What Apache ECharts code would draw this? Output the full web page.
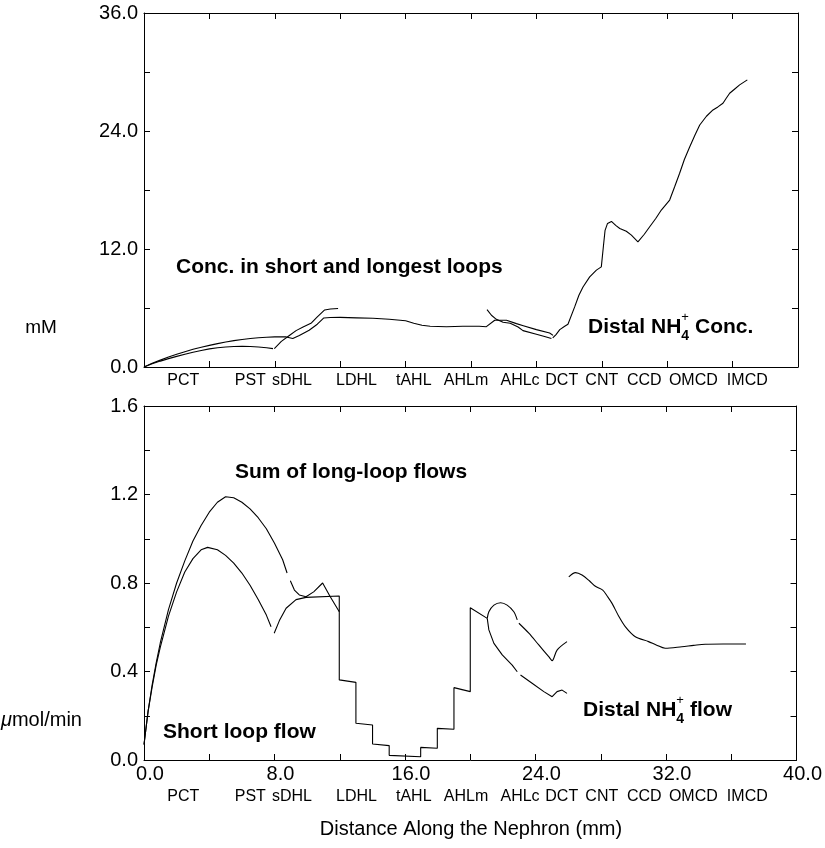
<!DOCTYPE html>
<html>
<head>
<meta charset="utf-8">
<script src="https://cdn.jsdelivr.net/npm/echarts@6/dist/echarts.min.js"></script>
<style>html,body{margin:0;padding:0;background:#fff;}#c{width:825px;height:848px;}</style>
</head>
<body>
<div id="c"></div>
<script>
// ---------- DATA ----------
// Segment labels along the nephron (centre positions, mm)
const segNames   = ['PCT','PST','sDHL','LDHL','tAHL','AHLm','AHLc','DCT','CNT','CCD','OMCD','IMCD'];
const segCenters = [2.4, 6.5, 9.05, 13.0, 16.5, 19.7, 23.0, 25.55, 28.0, 30.6, 33.6, 36.9];

// Top panel: NH4+ concentration (mM)
const concLongLoop = [[0,0],[0.5,0.37],[1,0.7],[1.5,1.01],[2,1.3],[2.5,1.56],[3,1.8],[3.5,2.01],[4,2.2],[4.5,2.38],[5,2.55],
  [5.5,2.68],[6,2.8],[6.5,2.9],[7,2.98],[7.5,3.03],[8,3.06],[8.7,3.06],[9.1,2.9],
  [9.5,3.2],[10.1,3.74],[10.6,4.35],[11.0,4.99],[11.4,5.03],[12,5.05],[13,5.0],[14,4.95],[15,4.86],[16,4.7],
  [16.5,4.45],[17,4.25],[17.5,4.14],[18.5,4.1],[19.5,4.14],[20.5,4.14],[20.94,4.1],[21.45,4.76],[22.17,4.76],
  [22.78,4.41],[23.2,4.2],[24.0,3.8],[24.81,3.46],[25.02,3.22]];
const concShortPCT = [[0,0],[0.5,0.32],[1,0.6],[1.5,0.85],[2,1.08],[2.5,1.3],[3,1.5],[3.5,1.68],[4,1.84],[4.5,1.95],[5,2.03],
  [5.5,2.08],[6,2.1],[6.5,2.09],[7,2.04],[7.5,1.96],[7.89,1.87]];
const concShortDHL = [[7.97,1.87],[8.4,2.6],[8.91,3.23],[9.3,3.7],[9.73,4.07],[10.24,4.48],[10.6,5.1],[11.05,5.8],[11.4,5.9],[11.87,5.95]];
const concShortDistalLoop = [[20.98,5.84],[21.25,5.26],[21.55,4.85],[21.96,4.55],[22.4,4.45],[22.88,4.07],[23.18,3.7],[24.0,3.33],[24.5,3.1],[24.92,2.89]];
const concDistal = [[25.0,2.95],[25.2,3.3],[25.43,3.8],[25.73,4.14],[25.93,4.35],[26.04,4.5],[26.34,6.11],[26.6,7.3],[26.85,8.14],
  [27.26,9.16],[27.67,9.85],[27.97,10.18],[28.1,12.3],[28.2,13.9],[28.35,14.6],[28.59,14.8],[28.85,14.4],[29.1,14.09],
  [29.5,13.8],[29.81,13.41],[30.21,12.73],[30.6,13.5],[30.93,14.26],[31.3,15.1],[31.64,15.96],[32.15,16.98],[32.45,18.3],
  [32.76,19.7],[33.05,21.1],[33.38,22.4],[33.7,23.6],[33.99,24.61],[34.4,25.5],[34.8,26.14],[35.1,26.45],[35.41,26.82],
  [35.6,27.3],[35.82,27.84],[36.15,28.3],[36.43,28.69],[36.9,29.2]];

// Bottom panel: NH4+ flow (umol/min)
const flowLongPCT = [[0,0.07],[0.25,0.22],[0.5,0.34],[0.75,0.44],[1,0.53],[1.5,0.68],[2,0.8],[2.5,0.9],[3,0.99],[3.5,1.06],
  [4,1.12],[4.5,1.165],[5,1.19],[5.5,1.185],[6,1.165],[6.5,1.135],[7,1.095],[7.5,1.045],[8,0.98],[8.5,0.905],[8.77,0.845]];
const flowLongDHL = [[8.97,0.81],[9.22,0.768],[9.52,0.746],[9.93,0.738],[10.4,0.76],[10.95,0.80],[11.4,0.74],[11.97,0.67]];
const flowShortPCT = [[0,0.07],[0.25,0.22],[0.5,0.33],[0.75,0.43],[1,0.51],[1.5,0.65],[2,0.76],[2.5,0.85],[3,0.91],[3.5,0.95],
  [3.9,0.961],[4.5,0.95],[5,0.925],[5.5,0.89],[6,0.845],[6.5,0.79],[7,0.725],[7.5,0.655],[7.79,0.602]];
const flowShortSteps = [[7.98,0.573],[8.3,0.63],[8.71,0.686],[9.32,0.725],[9.93,0.735],[11.97,0.741],[11.97,0.362],[12.99,0.351],
  [12.99,0.166],[14.01,0.158],[14.01,0.072],[15.03,0.065],[15.03,0.021],[16.96,0.015],[16.96,0.057],[17.98,0.053],
  [17.98,0.143],[19.0,0.139],[19.0,0.327],[20.0,0.309],[20.0,0.688],[21.04,0.64]];
const flowLoopUpper = [[21.04,0.64],[21.14,0.67],[21.45,0.70],[21.86,0.711],[22.26,0.70],[22.67,0.67],[22.88,0.633],[22.93,null],
  [22.98,0.618],[23.59,0.573],[24.2,0.52],[24.81,0.467],[25.02,0.449],[25.32,0.497],[25.93,0.535]];
const flowLoopLower = [[21.04,0.64],[21.14,0.588],[21.45,0.527],[21.96,0.475],[22.57,0.429],[22.88,0.399],[22.98,null],
  [23.08,0.384],[23.79,0.347],[24.51,0.309],[25.02,0.286],[25.32,0.309],[25.63,0.316],[25.93,0.301]];
const flowDistal = [[26.04,0.828],[26.45,0.847],[26.85,0.836],[27.3,0.81],[27.67,0.785],[28.12,0.768],[28.4,0.74],[28.69,0.708],
  [29.1,0.65],[29.5,0.603],[30.12,0.557],[30.93,0.535],[31.4,0.52],[31.95,0.505],[32.97,0.512],[33.7,0.518],[34.4,0.523],
  [35.5,0.524],[36.9,0.524]];

// ---------- CHART ----------
const FONT = '"Liberation Sans", Arial, Helvetica, sans-serif';
const chart = echarts.init(document.getElementById('c'), null, {renderer:'canvas'});
const axLine = {show:true, onZero:false, lineStyle:{color:'#000', width:1}};
const tick = {show:true, inside:true, length:6, lineStyle:{color:'#000', width:1}};

function xAx(grid, pos, labels){
  return {type:'value', gridIndex:grid, position:pos, min:0, max:40, interval:4,
    axisLine:axLine, axisTick:tick, splitLine:{show:false},
    axisLabel: labels ? {show:true, color:'#000', fontSize:20, fontFamily:FONT, margin:4, padding:[0,0,0,12],
      formatter:v => (Math.round(v)%8===0 ? v.toFixed(1) : '')} : {show:false}};
}
function yAx(grid, pos, max, interval, labelEvery, labels){
  return {type:'value', gridIndex:grid, position:pos, min:0, max:max, interval:interval,
    axisLine:axLine, axisTick:tick, splitLine:{show:false},
    axisLabel: labels ? {show:true, color:'#000', fontSize:20, fontFamily:FONT, margin:6,
      formatter:v => (Math.abs(Math.round(v/labelEvery)*labelEvery - v) < 1e-6 ? v.toFixed(1) : '')} : {show:false}};
}
function line(data, xi, yi, smooth){
  return {type:'line', data:data, xAxisIndex:xi, yAxisIndex:yi, showSymbol:false, symbol:'none',
    smooth: smooth ? 0.3 : false,
    connectNulls:false, lineStyle:{color:'#000', width:1.1}, silent:true, animation:false};
}

chart.setOption({
  animation:false,
  backgroundColor:'#fff',
  grid:[{left:144, top:13, width:654, height:354}, {left:144, top:406, width:654, height:354}],
  xAxis:[xAx(0,'bottom',false), xAx(0,'top',false), xAx(1,'bottom',true), xAx(1,'top',false)],
  yAxis:[yAx(0,'left',36,6,12,true), yAx(0,'right',36,6,12,false),
         yAx(1,'left',1.6,0.2,0.4,true), yAx(1,'right',1.6,0.2,0.4,false)],
  series:[
    line(concLongLoop,0,0,false), line(concShortPCT,0,0,false), line(concShortDHL,0,0,false),
    line(concShortDistalLoop,0,0,false), line(concDistal,0,0,false),
    line(flowLongPCT,2,2,false), line(flowLongDHL,2,2,false), line(flowShortPCT,2,2,false), line(flowShortSteps,2,2,false),
    line(flowLoopUpper,2,2,true), line(flowLoopLower,2,2,false), line(flowDistal,2,2,true)
  ]
});

const graphics = [];
segNames.forEach((n,i)=>{
  const px = chart.convertToPixel({xAxisIndex:0}, segCenters[i]);
  [381, 797].forEach(y=>graphics.push({type:'text', x:px, y:y,
    style:{text:n, fontSize:16, fontFamily:FONT, fill:'#000', align:'center', verticalAlign:'middle'}}));
});
const boldTxt = (t,x,y)=>({type:'text', x:x, y:y, style:{text:t, fontSize:21, fontWeight:'bold', fontFamily:FONT, fill:'#000', verticalAlign:'middle'}});
const nhRich = {b:{fontSize:21, fontWeight:'bold', fontFamily:FONT, fill:'#000'},
  sup:{fontSize:13, fontWeight:'normal', fontFamily:FONT, fill:'#000', width:0, verticalAlign:'top', lineHeight:32},
  sub:{fontSize:14, fontWeight:'bold', fontFamily:FONT, fill:'#000', verticalAlign:'bottom', lineHeight:32}};
graphics.push(boldTxt('Conc. in short and longest loops', 176, 267));
graphics.push(boldTxt('Sum of long-loop flows', 235, 472));
graphics.push(boldTxt('Short loop flow', 163, 732));
graphics.push({type:'text', x:588, y:327, style:{text:'{b|Distal NH}{sup|+}{sub|4}{b| Conc.}', rich:nhRich, verticalAlign:'middle', lineHeight:32}});
graphics.push({type:'text', x:583, y:710, style:{text:'{b|Distal NH}{sup|+}{sub|4}{b| flow}', rich:nhRich, verticalAlign:'middle', lineHeight:32}});
graphics.push({type:'text', x:41, y:328, style:{text:'mM', fontSize:19, fontFamily:FONT, fill:'#000', align:'center', verticalAlign:'middle'}});
graphics.push({type:'text', x:1, y:720, style:{text:'{i|\u03bc}{r|mol/min}', rich:{i:{fontSize:20, fontStyle:'italic', fontFamily:FONT, fill:'#000'}, r:{fontSize:20, fontFamily:FONT, fill:'#000'}}, verticalAlign:'middle'}});
graphics.push({type:'text', x:471, y:829, style:{text:'Distance Along the Nephron (mm)', fontSize:20, fontFamily:FONT, fill:'#000', align:'center', verticalAlign:'middle'}});
chart.setOption({graphic:graphics});
</script>
</body>
</html>
